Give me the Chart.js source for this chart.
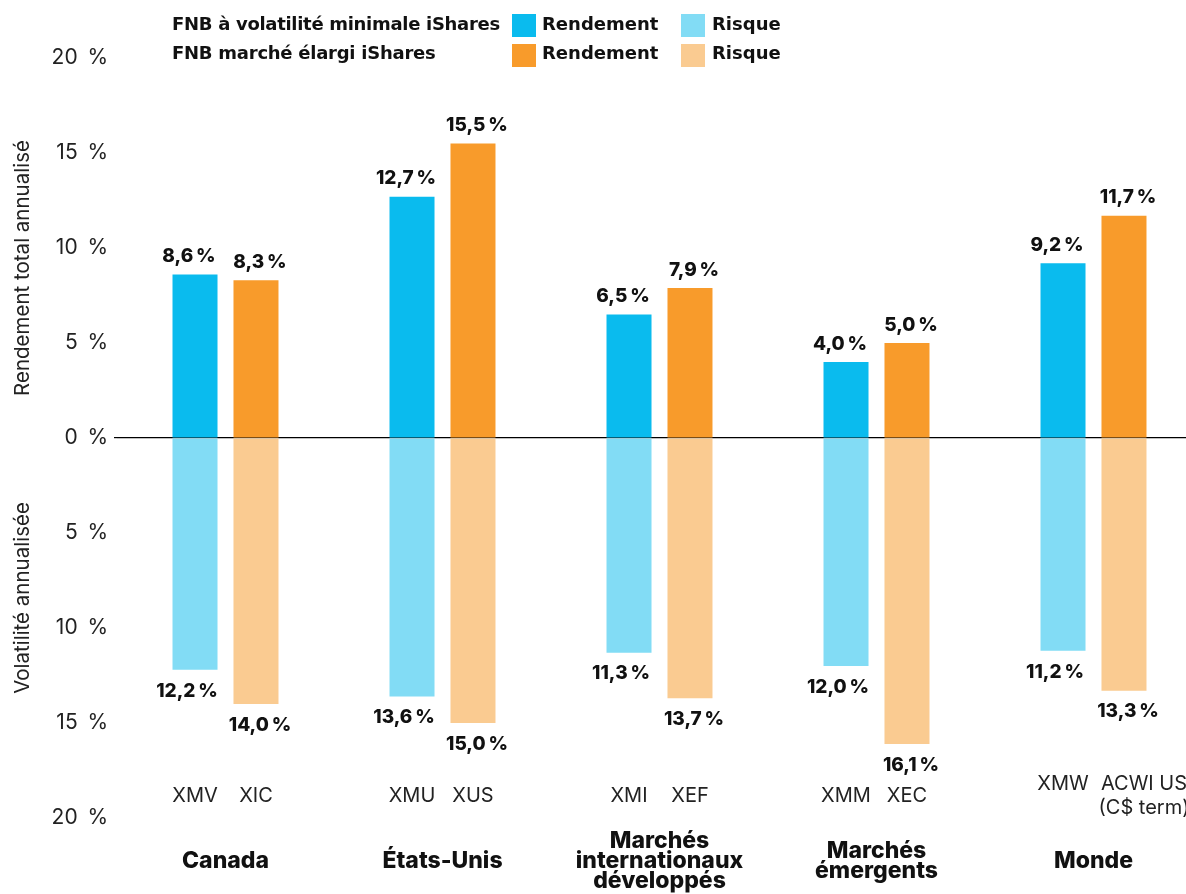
<!DOCTYPE html>
<html lang="fr">
<head>
<meta charset="utf-8">
<script src="https://cdn.jsdelivr.net/npm/chart.js@4.4.1/dist/chart.umd.min.js"></script>
<style>
  html, body { margin: 0; padding: 0; background: #fff; }
  #wrap { position: relative; width: 1186px; height: 894px; overflow: hidden; }
  #chart { position: absolute; left: 0; top: 0; }
  .leg { position: absolute; font-family: "DejaVu Sans", sans-serif; font-weight: 700; font-size: 18px; color: #111; white-space: nowrap; line-height: 1; }
  .sw { position: absolute; width: 24px; height: 23px; }
  .ytitle { position: absolute; font-family: Inter, "Noto Sans", sans-serif; font-size: 20.5px; color: #222; white-space: nowrap; transform: translate(-50%, -50%) rotate(-90deg); line-height: 1; }
</style>
</head>
<body>
<div id="wrap">
  <canvas id="chart" width="1202" height="894"></canvas>
  <div class="leg" id="legA" style="left:172px; top:15px; letter-spacing:-0.3px;"></div>
  <div class="leg" id="legB" style="left:172px; top:44px; letter-spacing:-0.25px;"></div>
  <div class="sw" id="sw1" style="left:512px; top:14px;"></div>
  <div class="leg" id="lt1" style="left:542px; top:15px;"></div>
  <div class="sw" id="sw2" style="left:681px; top:14px;"></div>
  <div class="leg" id="lt2" style="left:712px; top:15px;"></div>
  <div class="sw" id="sw3" style="left:512px; top:44px;"></div>
  <div class="leg" id="lt3" style="left:542px; top:44px;"></div>
  <div class="sw" id="sw4" style="left:681px; top:44px;"></div>
  <div class="leg" id="lt4" style="left:712px; top:44px;"></div>
  <div class="ytitle" style="left:22px; top:268px;">Rendement total annualisé</div>
  <div class="ytitle" style="left:22px; top:598px;">Volatilité annualisée</div>
</div>
<script>
// ---- Data ----
const categories = ['Canada', 'États-Unis', ['Marchés', 'internationaux', 'développés'], ['Marchés', 'émergents'], 'Monde'];
const minVolTickers = ['XMV', 'XMU', 'XMI', 'XMM', 'XMW'];
const broadTickers = ['XIC', 'XUS', 'XEF', 'XEC', ['ACWI US', '(C$ term)']];
const minVolReturn = [8.6, 12.7, 6.5, 4.0, 9.2];
const broadReturn = [8.3, 15.5, 7.9, 5.0, 11.7];
const minVolRisk = [12.2, 13.6, 11.3, 12.0, 11.2];
const broadRisk = [14.0, 15.0, 13.7, 16.1, 13.3];
const seriesNames = ['FNB à volatilité minimale iShares', 'FNB marché élargi iShares'];
const legendReturn = 'Rendement';
const legendRisk = 'Risque';

const C_BLUE = '#0ABBEE';
const C_LBLUE = '#82DCF5';
const C_ORANGE = '#F89B2B';
const C_LORANGE = '#FACB91';

// legend (HTML)
document.getElementById('legA').textContent = seriesNames[0];
document.getElementById('legB').textContent = seriesNames[1];
document.getElementById('lt1').textContent = legendReturn;
document.getElementById('lt2').textContent = legendRisk;
document.getElementById('lt3').textContent = legendReturn;
document.getElementById('lt4').textContent = legendRisk;
document.getElementById('sw1').style.background = C_BLUE;
document.getElementById('sw2').style.background = C_LBLUE;
document.getElementById('sw3').style.background = C_ORANGE;
document.getElementById('sw4').style.background = C_LORANGE;

const fmt = v => v.toFixed(1).replace('.', ',') + '\u202F%';

const labelsPlugin = {
  id: 'barLabels',
  afterDatasetsDraw(chart) {
    const ctx = chart.ctx;
    ctx.save();
    ctx.fillStyle = '#111';
    ctx.textAlign = 'center';
    ctx.textBaseline = 'middle';
    ctx.font = '800 19px Inter, "Noto Sans", sans-serif';
    const dx = [-6, -8, 4, 4];
    chart.data.datasets.forEach((ds, di) => {
      const meta = chart.getDatasetMeta(di);
      meta.data.forEach((bar, i) => {
        const v = ds.data[i];
        const y = v >= 0 ? bar.y - 18 : bar.y + 21;
        ctx.fillText(fmt(Math.abs(v)), bar.x + dx[di], y);
      });
    });
    // tickers
    ctx.font = '400 20px Inter, "Noto Sans", sans-serif';
    ctx.fillStyle = '#222';
    const base = chart.chartArea.bottom - 22;
    const m0 = chart.getDatasetMeta(0), m2 = chart.getDatasetMeta(2);
    for (let i = 0; i < categories.length; i++) {
      const a = [].concat(minVolTickers[i]);
      const b = [].concat(broadTickers[i]);
      const n = Math.max(a.length, b.length);
      const top = base - (n - 1) * 12;
      a.forEach((t, k) => ctx.fillText(t, m0.data[i].x, top + k * 24));
      b.forEach((t, k) => ctx.fillText(t, m2.data[i].x + (b.length > 1 ? 20 : 0), top + k * 24));
    }
    ctx.restore();
  }
};

new Chart(document.getElementById('chart'), {
  type: 'bar',
  data: {
    labels: categories,
    datasets: [
      { label: legendReturn, data: minVolReturn, stack: 'minvol', backgroundColor: C_BLUE },
      { label: legendRisk, data: minVolRisk.map(v => -v), stack: 'minvol', backgroundColor: C_LBLUE },
      { label: legendReturn, data: broadReturn, stack: 'broad', backgroundColor: C_ORANGE },
      { label: legendRisk, data: broadRisk.map(v => -v), stack: 'broad', backgroundColor: C_LORANGE }
    ]
  },
  options: {
    responsive: false,
    animation: false,
    layout: { padding: { top: 58, right: 0, left: 0, bottom: 0 } },
    categoryPercentage: 0.562,
    barPercentage: 0.738,
    plugins: { legend: { display: false }, tooltip: { enabled: false } },
    scales: {
      x: {
        grid: { display: false },
        border: { display: false },
        ticks: {
          color: '#111',
          font: { family: 'Inter, "Noto Sans", sans-serif', size: 23, weight: '800', lineHeight: 0.87 },
          padding: 15,
          maxRotation: 0,
          autoSkip: false,
          crossAlign: 'center'
        },
        afterFit(s) { s.height = 76; }
      },
      y: {
        stacked: true,
        min: -20,
        max: 20,
        border: { display: false },
        grid: {
          drawTicks: true,
          tickLength: 3,
          lineWidth: 1.2,
          color: c => (c.tick && c.tick.value === 0) ? '#000' : 'rgba(0,0,0,0)'
        },
        ticks: {
          stepSize: 5,
          padding: 6,
          color: '#222',
          font: { family: 'Inter, "Noto Sans", sans-serif', size: 21, weight: '400' },
          callback: v => Math.abs(v) + '\u2009 %'
        },
        afterFit(s) { s.width = 117; }
      }
    }
  },
  plugins: [labelsPlugin]
});
</script>
</body>
</html>
